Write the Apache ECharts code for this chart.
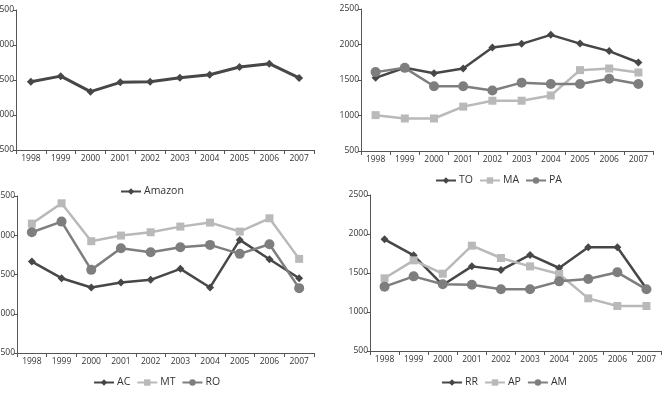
<!DOCTYPE html>
<html>
<head>
<meta charset="utf-8">
<script src="https://cdn.jsdelivr.net/npm/echarts@6/dist/echarts.min.js"></script>
<style>html,body{margin:0;padding:0;background:#fff}#c{width:662px;height:403px}</style>
</head>
<body>
<div id="c"></div>
<script>
var years = ['1998','1999','2000','2001','2002','2003','2004','2005','2006','2007'];
var yTicks = [500, 1000, 1500, 2000, 2500];

var amazon = [1475, 1555, 1333, 1467, 1475, 1533, 1576, 1686, 1733, 1529];

var TO = [1530, 1672, 1595, 1662, 1958, 2009, 2136, 2013, 1907, 1747];
var MA = [1005, 958, 958, 1125, 1208, 1208, 1282, 1639, 1662, 1606];
var PA = [1611, 1671, 1412, 1412, 1352, 1463, 1444, 1444, 1518, 1444];

var AC = [1665, 1453, 1335, 1398, 1432, 1572, 1335, 1941, 1695, 1453];
var MT = [2148, 2407, 1924, 1996, 2038, 2110, 2161, 2047, 2216, 1699];
var RO = [2038, 2174, 1559, 1835, 1784, 1847, 1877, 1763, 1886, 1326];

var RR = [1932, 1726, 1346, 1585, 1538, 1731, 1564, 1829, 1829, 1299];
var AP = [1432, 1662, 1491, 1850, 1692, 1585, 1487, 1175, 1077, 1077];
var AM = [1325, 1457, 1355, 1350, 1291, 1291, 1393, 1423, 1509, 1291];

var DARK = '#474747', LIGHT = '#b9b9b9', MID = '#7e7e7e';
var FONT = 'Open Sans';

var chart = echarts.init(document.getElementById('c'));

var grids = [
  {left: 16, top: 10, width: 298, height: 140},
  {left: 361, top: 9, width: 292, height: 142},
  {left: 17, top: 196, width: 297, height: 157},
  {left: 370, top: 195, width: 291, height: 156}
];
grids.forEach(function(g){ g.outerBoundsMode = 'none'; g.containLabel = false; });

function xAx(i){
  return {
    type: 'category', gridIndex: i, data: years, boundaryGap: true,
    axisLine: {lineStyle: {color: '#555', width: 1}},
    axisTick: {show: true, length: 4, inside: false, lineStyle: {color: '#555'}},
    axisLabel: {color: '#333', fontSize: 8.5, fontFamily: FONT, margin: 4},
    splitLine: {show: false}
  };
}
function yAx(i){
  return {
    type: 'value', gridIndex: i, min: yTicks[0], max: yTicks[yTicks.length-1], interval: 500,
    axisLine: {show: true, lineStyle: {color: '#555', width: 1}},
    axisTick: {show: true, length: 3, inside: false, lineStyle: {color: '#555'}},
    axisLabel: {color: '#333', fontSize: 8.5, fontFamily: FONT, margin: 2,
      formatter: function(v){ return String(v); }},
    splitLine: {show: false}
  };
}
function ser(name, data, i, color, symbol, size, width){
  return {
    name: name, type: 'line', xAxisIndex: i, yAxisIndex: i, data: data,
    symbol: symbol, symbolSize: size, showSymbol: true,
    lineStyle: {color: color, width: width || 2.5},
    itemStyle: {color: color},
    emphasis: {disabled: true}, animation: false
  };
}
function leg(names, left, top){
  return {
    data: names, left: left, top: top, orient: 'horizontal',
    itemWidth: 20, itemHeight: 8, itemGap: 6,
    textStyle: {color: '#333', fontSize: 10.5, fontFamily: FONT, padding: [0,0,0,-2]},
    padding: 0, selectedMode: false
  };
}

chart.setOption({
  animation: false,
  backgroundColor: '#fff',
  grid: grids,
  xAxis: [xAx(0), xAx(1), xAx(2), xAx(3)],
  yAxis: [yAx(0), yAx(1), yAx(2), yAx(3)],
  legend: [
    leg(['Amazon'], 120, 186),
    leg(['TO', 'MA', 'PA'], 435, 175),
    leg(['AC', 'MT', 'RO'], 93, 377),
    leg(['RR', 'AP', 'AM'], 441, 377)
  ],
  series: [
    ser('Amazon', amazon, 0, DARK, 'diamond', 8, 3),
    ser('TO', TO, 1, DARK, 'diamond', 8),
    ser('MA', MA, 1, LIGHT, 'rect', 8),
    ser('PA', PA, 1, MID, 'circle', 10),
    ser('AC', AC, 2, DARK, 'diamond', 8),
    ser('MT', MT, 2, LIGHT, 'rect', 8),
    ser('RO', RO, 2, MID, 'circle', 10),
    ser('RR', RR, 3, DARK, 'diamond', 8),
    ser('AP', AP, 3, LIGHT, 'rect', 8),
    ser('AM', AM, 3, MID, 'circle', 10)
  ]
});
</script>
</body>
</html>
